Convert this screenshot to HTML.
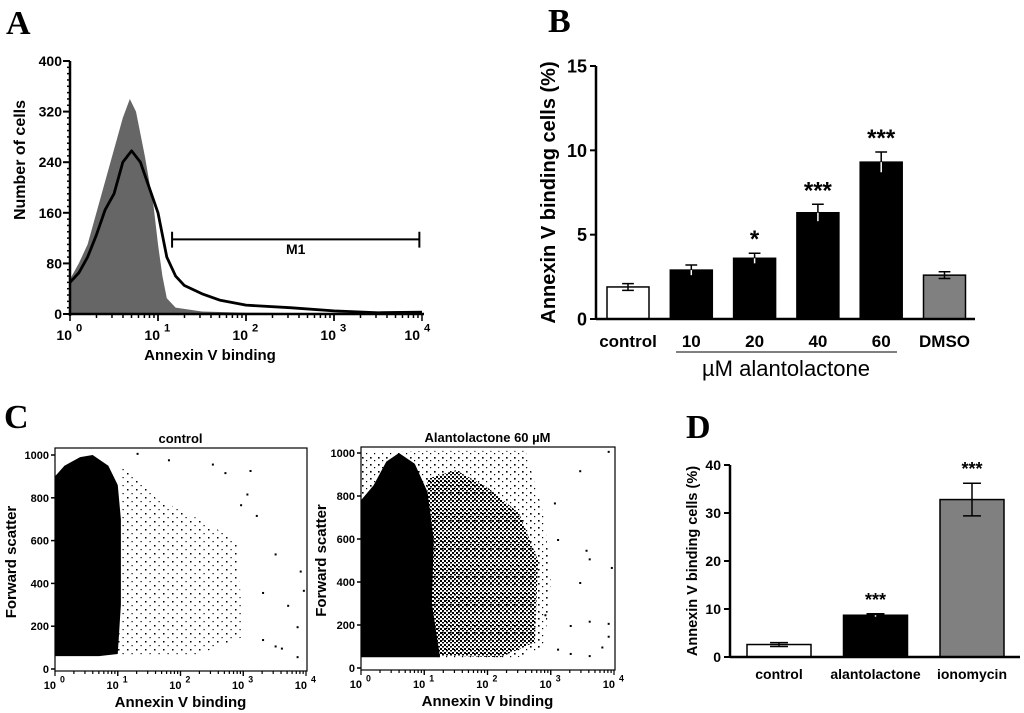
<!DOCTYPE html>
<html><head><meta charset="utf-8"><style>
html,body{margin:0;padding:0;background:#fff}
svg{display:block;font-family:"Liberation Sans",sans-serif}
</style></head><body>
<svg id="fig" width="1024" height="713" viewBox="0 0 1024 713" xmlns="http://www.w3.org/2000/svg">
<defs>
<pattern id="sparse" width="9" height="8" patternUnits="userSpaceOnUse"><rect x="1" y="1" width="1.5" height="1.5" fill="#000"/><rect x="5.5" y="5" width="1.2" height="1.2" fill="#000"/></pattern>
<pattern id="medium" width="4" height="4" patternUnits="userSpaceOnUse"><rect x="0" y="0" width="2" height="2" fill="#000"/><rect x="2" y="2" width="2" height="1.5" fill="#000"/></pattern>
<pattern id="light" width="8" height="7" patternUnits="userSpaceOnUse"><rect x="2" y="2" width="1.6" height="1.6" fill="#000"/><rect x="6" y="5" width="1.2" height="1.2" fill="#000"/></pattern>
</defs>
<text x="6" y="34" font-family="Liberation Serif,serif" font-weight="bold" font-size="34">A</text>
<text x="548" y="32" font-family="Liberation Serif,serif" font-weight="bold" font-size="34">B</text>
<text x="4" y="428" font-family="Liberation Serif,serif" font-weight="bold" font-size="34">C</text>
<text x="686" y="438" font-family="Liberation Serif,serif" font-weight="bold" font-size="34">D</text>
</svg>
<script>
// ---- Panel A data (log10 annexin, count)
const histGrayX=[0,0.1,0.2,0.3,0.4,0.5,0.6,0.68,0.75,0.85,0.95,1.0,1.05,1.1,1.2,1.5,2,3,4];
const histGrayY=[55,80,110,160,210,260,310,340,320,250,170,110,60,25,10,4,2,1,0];
const histLineX=[0,0.1,0.2,0.3,0.4,0.5,0.6,0.7,0.8,0.9,1.0,1.1,1.2,1.3,1.5,1.7,2,2.5,3,3.5,4];
const histLineY=[50,65,90,125,165,190,240,258,240,200,160,90,60,45,32,22,14,10,5,2,3];
const histYTicks=[0,80,160,240,320,400];
const decadeTicks=[0,1,2,3,4];
const markerM1=[1.16,3.97];
// ---- Panel B data
const bCats=["control","10","20","40","60","DMSO"];
const bVals=[1.9,2.9,3.6,6.3,9.3,2.6];
const bErr=[0.2,0.3,0.3,0.5,0.6,0.2];
const bStars=["","","*","***","***",""];
const bFill=["#fff","#000","#000","#000","#000","#808080"];
const bYTicks=[0,5,10,15];
// ---- Panel D data
const dCats=["control","alantolactone","ionomycin"];
const dVals=[2.6,8.7,32.8];
const dErr=[0.4,0.3,3.4];
const dStars=["","***","***"];
const dFill=["#fff","#000","#808080"];
const dYTicks=[0,10,20,30,40];
// ---- Panel C data (log10 annexin, FSC)
const c1Dense=[[0,60],[0,900],[0.15,950],[0.4,990],[0.6,1000],[0.85,950],[1.0,860],[1.05,700],[1.05,300],[1.0,70],[0.7,60]];
const c1Sparse=[[1.0,70],[1.05,960],[1.6,800],[2.3,700],[2.9,600],[3.0,150],[2.2,60],[1.4,60]];
const c1Dots=[[1.3,1010],[1.8,980],[2.5,960],[3.1,930],[3.05,820],[3.2,720],[3.5,540],[3.9,460],[3.3,360],[3.7,300],[3.85,200],[3.95,370],[3.5,110],[3.85,60],[3.6,100],[3.3,140],[2.95,770],[2.7,920]];
const c2Dense=[[0,50],[0,780],[0.2,850],[0.4,960],[0.6,1000],[0.85,950],[1.05,820],[1.15,600],[1.12,300],[1.25,50]];
const c2Medium=[[1.05,60],[1.05,880],[1.5,920],[2.0,840],[2.5,720],[2.8,500],[2.75,120],[2.2,50]];
const c2Light=[[0,60],[0,1000],[1.0,1010],[2.6,1010],[2.9,700],[3.0,400],[2.9,100],[2.4,40]];
const c2Dots=[[3.05,770],[3.1,600],[3.55,550],[3.6,510],[3.95,470],[3.45,400],[3.6,220],[3.9,210],[3.3,200],[3.9,150],[3.8,100],[3.3,70],[3.1,90],[3.6,60],[3.45,920],[3.9,1010],[2.9,250]];
const cYTicks=[0,200,400,600,800,1000];

const svg=document.getElementById('fig');
const NS='http://www.w3.org/2000/svg';
function mk(tag,attrs,txt){const e=document.createElementNS(NS,tag);for(const k in attrs)e.setAttribute(k,attrs[k]);if(txt!==undefined)e.textContent=txt;svg.appendChild(e);return e;}
function decLabel(x,y,p,fs,nameBase){
  const t=mk('text',{x:x-2,y:y,'text-anchor':'end','font-size':fs,'font-weight':'bold'},'10');
  
  
  const s=mk('text',{x:x+2,y:y-fs*0.6,'font-size':fs*0.8,'font-weight':'bold'},String(p));
  
  
}

// ===== Panel A
(function(){
  const x0=70,x1=422,y0=314,y1=61;
  const X=v=>x0+(x1-x0)*v/4, Y=v=>y0-(y0-y1)*v/400;
  let d='M'+X(histGrayX[0])+','+Y(0);
  histGrayX.forEach((v,i)=>{d+=' L'+X(v)+','+Y(histGrayY[i]);});
  d+=' L'+X(4)+','+Y(0)+' Z';
  const g=mk('path',{d:d,fill:'#666',stroke:'none'});
  
  
  let pts=histLineX.map((v,i)=>X(v)+','+Y(histLineY[i])).join(' ');
  const l=mk('polyline',{points:pts,fill:'none',stroke:'#000','stroke-width':2.8,'stroke-linejoin':'round'});
  
  
  const ya=mk('line',{x1:x0,y1:y1,x2:x0,y2:y0+2,stroke:'#000','stroke-width':2.5});
  
  
  const xa=mk('line',{x1:x0,y1:y0,x2:x1+2,y2:y0,stroke:'#000','stroke-width':2.5});
  
  
  for(let v=0;v<=400;v+=10){const big=v%80===0;const t=mk('line',{x1:x0-(big?7:3),y1:Y(v),x2:x0,y2:Y(v),stroke:'#000','stroke-width':big?2:1.5});
    
    }
  histYTicks.forEach(v=>{const t=mk('text',{x:x0-8,y:Y(v)+5,'text-anchor':'end','font-size':14,'font-weight':'bold'},String(v));
    
    });
  for(let dd=0;dd<4;dd++)for(let k=1;k<=10;k++){const xv=X(dd+Math.log10(k));const t=mk('line',{x1:xv,y1:y0,x2:xv,y2:y0+(k===10||k===1?7:4),stroke:'#000','stroke-width':1.5});
    
    }
  decadeTicks.forEach(p=>decLabel(X(p)+(p===4?0:4),y0+26,p,14,'a-x-tick-label'));
  const m=mk('path',{d:`M${X(markerM1[0])},${Y(105)}V${Y(130)}M${X(markerM1[0])},${Y(118)}H${X(markerM1[1])}M${X(markerM1[1])},${Y(105)}V${Y(130)}`,stroke:'#000','stroke-width':2,fill:'none'});
  
  
  const mt=mk('text',{x:(X(markerM1[0])+X(markerM1[1]))/2,y:Y(95),'text-anchor':'middle','font-size':14,'font-weight':'bold'},'M1');
  
  
  const xt=mk('text',{x:210,y:360,'text-anchor':'middle','font-size':15,'font-weight':'bold'},'Annexin V binding');
  
  
  const yt=mk('text',{x:0,y:0,transform:'translate(25,160) rotate(-90)','text-anchor':'middle','font-size':16,'font-weight':'bold'},'Number of cells');
  
  
})();

// ===== Bar charts
function barChart(o){
  const Y=v=>o.y0-(o.y0-o.y1)*v/o.max;
  o.vals.forEach((v,i)=>{
    const x=o.first+i*o.step;
    const r=mk('rect',{x:x,y:Y(v),width:o.w,height:o.y0-Y(v),fill:o.fill[i],stroke:'#000','stroke-width':1.5});
    
    
    const cx=x+o.w/2,cap=o.w*0.14;
    const e=mk('path',{d:`M${cx},${Y(v-o.err[i])}V${Y(v+o.err[i])}M${cx-cap},${Y(v+o.err[i])}H${cx+cap}M${cx-cap},${Y(v-o.err[i])}H${cx+cap}`,stroke:'#000','stroke-width':1.5,fill:'none'});
    
    
    if(o.fill[i]==='#000'){const e2=mk('path',{d:`M${cx},${Y(v)}V${Y(v-o.err[i])}`,stroke:'#fff','stroke-width':1.5});
      
      }
    if(o.stars[i]){const s=mk('text',{x:cx,y:Y(v+o.err[i])+o.starOff,'text-anchor':'middle','font-size':o.starFs,'font-weight':'bold'},o.stars[i]);
      
      }
    const t=mk('text',{x:cx,y:o.labY,'text-anchor':'middle','font-size':o.fs,'font-weight':'bold'},o.cats[i]);
    
    
  });
  const ya=mk('line',{x1:o.x0,y1:o.y1,x2:o.x0,y2:o.y0+1,stroke:'#000','stroke-width':2.5});
  
  
  const xa=mk('line',{x1:o.x0,y1:o.y0,x2:o.xEnd,y2:o.y0,stroke:'#000','stroke-width':2.5});
  
  
  o.ticks.forEach(v=>{
    const t=mk('line',{x1:o.x0-6,y1:Y(v),x2:o.x0,y2:Y(v),stroke:'#000','stroke-width':2});
    
    
    const l=mk('text',{x:o.x0-9,y:Y(v)+o.tfs*0.36,'text-anchor':'end','font-size':o.tfs,'font-weight':'bold'},String(v));
    
    
  });
  const yt=mk('text',{x:0,y:0,transform:`translate(${o.ytx},${(o.y0+o.y1)/2}) rotate(-90)`,'text-anchor':'middle','font-size':o.yfs,'font-weight':'bold'},'Annexin V binding cells (%)');
  
  
}
barChart({p:'b',cats:bCats,vals:bVals,err:bErr,stars:bStars,fill:bFill,ticks:bYTicks,max:15,x0:596,xEnd:975,y0:319,y1:66,first:607,step:63.3,w:42,labY:347,fs:17,tfs:18,yfs:20,ytx:555,starOff:-6,starFs:24});
barChart({p:'d',cats:dCats,vals:dVals,err:dErr,stars:dStars,fill:dFill,ticks:dYTicks,max:40,x0:730,xEnd:1020,y0:657,y1:465,first:747,step:96.5,w:64,labY:679,fs:14,tfs:14,yfs:14.5,ytx:697,starOff:-8,starFs:18});
(function(){
  const u=mk('line',{x1:676,y1:352,x2:897,y2:352,stroke:'#000','stroke-width':1});
  
  
  const t=mk('text',{x:786,y:376,'text-anchor':'middle','font-size':22},'µM alantolactone');
  
  
})();

// ===== Panel C scatter
function scatter(o){
  const X=v=>o.x0+(o.x1-o.x0)*v/4, Y=v=>o.y0-(o.y0-o.y1)*v/1000;
  const box=mk('rect',{x:o.x0,y:o.top,width:o.x1-o.x0+1,height:o.y0+2-o.top,fill:'none',stroke:'#000','stroke-width':1.2});
  
  
  const poly=(arr,fill,name)=>{const e=mk('polygon',{points:arr.map(p=>X(p[0])+','+Y(p[1])).join(' '),fill:fill,stroke:'none'});
    
    };
  o.layers.forEach(L=>poly(L[0],L[1],o.p+'-'+L[2]));
  o.dots.forEach(p=>{const e=mk('rect',{x:X(p[0]),y:Y(p[1]),width:2,height:2,fill:'#000'});
    
    });
  cYTicks.forEach(v=>{
    const t=mk('line',{x1:o.x0-4,y1:Y(v),x2:o.x0,y2:Y(v),stroke:'#000','stroke-width':1.5});
    
    
    const l=mk('text',{x:o.x0-6,y:Y(v)+4,'text-anchor':'end','font-size':11,'font-weight':'bold'},String(v));
    
    
  });
  for(let dd=0;dd<4;dd++)for(let k=1;k<=10;k++){const xv=X(dd+Math.log10(k));const t=mk('line',{x1:xv,y1:o.y0+2,x2:xv,y2:o.y0+(k===10||k===1?7:5),stroke:'#000','stroke-width':1.2});
    
    }
  decadeTicks.forEach(p=>decLabel(X(p)+3,o.y0+20,p,11,o.p+'-x-tick-label'));
  const tt=mk('text',{x:(o.x0+o.x1)/2,y:o.top-5,'text-anchor':'middle','font-size':13,'font-weight':'bold'},o.title);
  
  
  const xt=mk('text',{x:(o.x0+o.x1)/2,y:o.y0+38,'text-anchor':'middle','font-size':15,'font-weight':'bold'},'Annexin V binding');
  
  
  const yt=mk('text',{x:0,y:0,transform:`translate(${o.ytx},${(o.y0+o.y1)/2}) rotate(-90)`,'text-anchor':'middle','font-size':15,'font-weight':'bold'},'Forward scatter');
  
  
}
scatter({p:'c-control',x0:55,x1:306,y0:669,y1:455,top:448,title:'control',ytx:16,
  layers:[[c1Sparse,'url(#sparse)','sparse-events'],[c1Dense,'#000','dense-events']],dots:c1Dots});
scatter({p:'c-treated',x0:361,x1:614,y0:668,y1:453,top:447,title:'Alantolactone 60 µM',ytx:326,
  layers:[[c2Light,'url(#light)','light-events'],[c2Medium,'url(#medium)','medium-events'],[c2Dense,'#000','dense-events']],dots:c2Dots});
</script>
</body></html>
